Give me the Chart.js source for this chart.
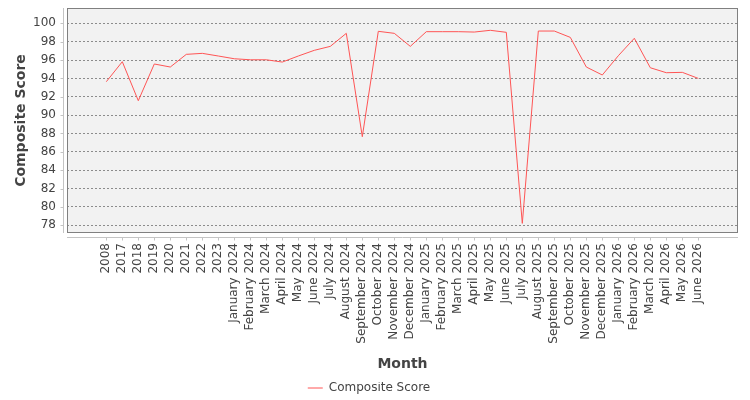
<!DOCTYPE html>
<html>
<head>
<meta charset="utf-8">
<title>Composite Score by Month</title>
<script src="https://cdn.jsdelivr.net/npm/chart.js@4"></script>
<style>
  html, body { margin: 0; padding: 0; background: #fff; }
</style>
</head>
<body>
<canvas id="myChart" width="750" height="400"></canvas>
<script>
// data
const months = [
  '2008', '2017', '2018', '2019', '2020', '2021', '2022', '2023',
  'January 2024', 'February 2024', 'March 2024', 'April 2024', 'May 2024', 'June 2024',
  'July 2024', 'August 2024', 'September 2024', 'October 2024', 'November 2024', 'December 2024',
  'January 2025', 'February 2025', 'March 2025', 'April 2025', 'May 2025', 'June 2025',
  'July 2025', 'August 2025', 'September 2025', 'October 2025', 'November 2025', 'December 2025',
  'January 2026', 'February 2026', 'March 2026', 'April 2026', 'May 2026', 'June 2026'
];
const scores = [
  93.64, 95.82, 91.57, 95.57, 95.24, 96.62, 96.73, 96.44,
  96.14, 96.03, 96.03, 95.78, 96.44, 97.06,
  97.49, 98.91, 87.65, 99.13, 98.91, 97.49,
  99.09, 99.09, 99.09, 99.05, 99.24, 99.02,
  78.21, 99.16, 99.16, 98.47, 95.24, 94.37,
  96.47, 98.37, 95.16, 94.62, 94.66, 94.00
];
const yTicks = [78, 80, 82, 84, 86, 88, 90, 92, 94, 96, 98, 100];
const yMin = 77.16;
const yMax = 101.67;

Chart.defaults.font.family = 'DejaVu Sans';
Chart.defaults.color = '#444';

// plot background, border and the offset axis lines
const plotDecor = {
  id: 'plotDecor',
  beforeDraw(chart) {
    const {ctx, chartArea: a} = chart;
    ctx.save();
    ctx.fillStyle = '#f2f2f2';
    ctx.fillRect(a.left, a.top, a.right - a.left, a.bottom - a.top);
    ctx.restore();
  },
  afterDraw(chart) {
    const {ctx, chartArea: a, scales} = chart;
    ctx.save();
    ctx.lineWidth = 1;
    ctx.strokeStyle = '#c4c4c4';
    ctx.beginPath();
    const ax = a.left - 4 + 0.5;
    ctx.moveTo(ax, a.top);
    ctx.lineTo(ax, a.bottom);
    scales.y.ticks.forEach(t => {
      const py = Math.round(scales.y.getPixelForValue(t.value)) + 0.5;
      ctx.moveTo(ax - 3, py);
      ctx.lineTo(ax, py);
    });
    const ay = a.bottom + 4 + 0.5;
    ctx.moveTo(a.left, ay);
    ctx.lineTo(a.right, ay);
    scales.x.ticks.forEach(t => {
      const px = Math.round(scales.x.getPixelForValue(t.value)) + 0.5;
      ctx.moveTo(px, ay);
      ctx.lineTo(px, ay + 3);
    });
    ctx.stroke();
    ctx.strokeStyle = '#808080';
    ctx.strokeRect(a.left + 0.5, a.top + 0.5, a.right - a.left - 1, a.bottom - a.top - 1);
    ctx.restore();
  }
};

const myChart = document.getElementById('myChart');

new Chart(myChart, {
  type: 'line',
  data: {
    datasets: [{
      label: 'Composite Score',
      data: scores.map((v, i) => ({x: i, y: v})),
      borderColor: '#ff5555',
      backgroundColor: '#ff5555',
      borderWidth: 1,
      pointRadius: 0,
      tension: 0,
      fill: false
    }]
  },
  options: {
    responsive: false,
    animation: false,
    layout: {padding: {top: 8, right: 12, bottom: -4, left: 0}},
    plugins: {
      tooltip: {enabled: false},
      legend: {
        position: 'bottom',
        labels: {
          usePointStyle: true,
          pointStyle: 'line',
          pointStyleWidth: 15,
          padding: 0,
          color: '#444',
          font: {size: 12}
        }
      }
    },
    scales: {
      x: {
        type: 'linear',
        bounds: 'data',
        min: -2.456,
        max: 39.48,
        afterBuildTicks: s => { s.ticks = months.map((m, i) => ({value: i})); },
        afterFit: s => { s.height = 149; s.paddingLeft = 0; s.paddingRight = 0; },
        grid: {display: false, drawTicks: false},
        border: {display: false},
        ticks: {
          autoSkip: false,
          maxRotation: 90,
          minRotation: 90,
          padding: 10,
          color: '#444',
          font: {size: 12},
          callback: v => months[v]
        },
        title: {
          display: true,
          text: 'Month',
          color: '#444',
          font: {size: 14, weight: 'bold'},
          padding: {top: 0, bottom: 9}
        }
      },
      y: {
        type: 'linear',
        bounds: 'data',
        min: yMin,
        max: yMax,
        afterBuildTicks: s => { s.ticks = yTicks.map(v => ({value: v})); },
        afterFit: s => { s.width = 67; s.paddingTop = 0; s.paddingBottom = 0; },
        grid: {color: '#8c8c8c', drawTicks: false},
        border: {display: false, dash: [2, 2]},
        ticks: {
          padding: 11,
          color: '#444',
          font: {size: 12}
        },
        title: {
          display: true,
          text: 'Composite Score',
          color: '#444',
          font: {size: 14, weight: 'bold'},
          padding: {top: 13, bottom: 0}
        }
      }
    }
  },
  plugins: [plotDecor]
});
</script>
</body>
</html>
